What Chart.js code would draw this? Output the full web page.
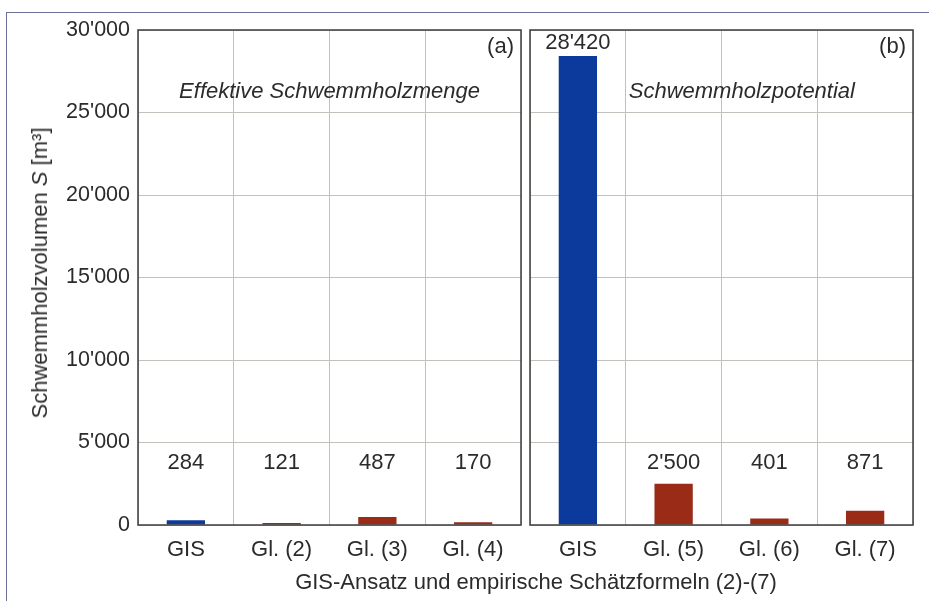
<!DOCTYPE html>
<html>
<head>
<meta charset="utf-8">
<script src="https://cdn.jsdelivr.net/npm/chart.js@4"></script>
<style>
  body { margin: 0; background: #fff; }
  #wrap { position: relative; width: 929px; height: 601px; overflow: hidden; font-family: "Liberation Sans", Arial, sans-serif; color: #2b2b2b; }
  #frame { position: absolute; left: 6px; top: 12px; width: 940px; height: 600px; border-top: 1.5px solid #6d7098; border-left: 1.5px solid #6d7098; }
  #cA { position: absolute; left: 0; top: 0; }
  #cB { position: absolute; left: 525px; top: 0; }
  #ytitle { position: absolute; left: 40px; top: 273px; transform: translate(-50%, -50%) rotate(-90deg); white-space: nowrap; font-size: 22px; }
  #xtitle { position: absolute; left: 536px; top: 582px; transform: translate(-50%, -50%); white-space: nowrap; font-size: 22px; }
</style>
</head>
<body>
<div id="wrap">
  <div id="frame"></div>
  <canvas id="cA" width="525" height="601"></canvas>
  <canvas id="cB" width="404" height="601"></canvas>
  <div id="ytitle">Schwemmholzvolumen <i>S</i> [m³]</div>
  <div id="xtitle">GIS-Ansatz und empirische Schätzformeln (2)-(7)</div>
</div>
<script>
// Teil (a): effektive Schwemmholzmenge, Teil (b): Schwemmholzpotential
const labelsA = ['GIS', 'Gl. (2)', 'Gl. (3)', 'Gl. (4)'];
const valuesA = [284, 121, 487, 170];
const labelsB = ['GIS', 'Gl. (5)', 'Gl. (6)', 'Gl. (7)'];
const valuesB = [28420, 2500, 401, 871];
const yTicks = [0, 5000, 10000, 15000, 20000, 25000, 30000];

const blue = '#0c3a9c';
const red = '#9a2b17';
const fontFam = '"Liberation Sans", Arial, sans-serif';
const textCol = '#2b2b2b';

function fmt(v) {
    return String(v).replace(/\B(?=(\d{3})+(?!\d))/g, "'");
}

// Rahmen, Werte und Beschriftung der Teilgrafik
const panelPlugin = {
    id: 'panel',
    afterDraw(chart, args, opts) {
        let ctx = chart.ctx;
        let a = chart.chartArea;
        ctx.save();
        ctx.strokeStyle = '#3c3c3c';
        ctx.lineWidth = 1.5;
        ctx.strokeRect(a.left, a.top, a.right - a.left, a.bottom - a.top);

        ctx.fillStyle = textCol;
        ctx.font = '22px ' + fontFam;
        ctx.textAlign = 'center';
        ctx.textBaseline = 'middle';
        let y = chart.scales.y;
        let meta = chart.getDatasetMeta(0);
        meta.data.forEach((bar, i) => {
            let v = chart.data.datasets[0].data[i];
            let py = Math.min(y.getPixelForValue(3750), y.getPixelForValue(v) - 13);
            ctx.fillText(fmt(v), bar.x, py);
        });

        ctx.textAlign = 'right';
        ctx.fillText(opts.tag, a.right - 7, a.top + 17);

        ctx.font = 'italic 22px ' + fontFam;
        if (opts.centered) {
            ctx.textAlign = 'center';
            ctx.fillText(opts.title, (a.left + a.right) / 2, a.top + 62);
        } else {
            let x = chart.scales.x;
            let gx = (x.getPixelForValue(0) + x.getPixelForValue(1)) / 2;
            ctx.textAlign = 'left';
            ctx.fillText(opts.title, gx + 3, a.top + 62);
        }
        ctx.restore();
    }
};

function makeChart(id, labels, values, colors, showY, pad, yWidth, tag, title, centered) {
    let ctx = document.getElementById(id).getContext('2d');
    return new Chart(ctx, {
        type: 'bar',
        data: {
            labels: labels,
            datasets: [{
                data: values,
                backgroundColor: colors,
                borderWidth: 0,
                barPercentage: 0.4,
                categoryPercentage: 1
            }]
        },
        options: {
            responsive: false,
            animation: false,
            layout: { padding: pad },
            plugins: {
                legend: { display: false },
                tooltip: { enabled: false },
                panel: { tag: tag, title: title, centered: centered }
            },
            scales: {
                x: {
                    grid: { color: '#c4c0bc', lineWidth: 1, offset: true, drawTicks: false },
                    border: { display: false },
                    ticks: { color: textCol, font: { size: 22, family: fontFam }, padding: 12, maxRotation: 0 },
                    afterFit(s) { s.height = 76; }
                },
                y: {
                    min: 0,
                    max: 30000,
                    afterBuildTicks(s) { s.ticks = yTicks.map(v => ({ value: v })); },
                    grid: { color: '#c4c0bc', lineWidth: 1, drawTicks: false },
                    border: { display: false },
                    ticks: {
                        display: showY,
                        color: textCol,
                        font: { size: 21.5, family: fontFam },
                        padding: 8,
                        callback: v => fmt(v)
                    },
                    afterFit(s) { s.width = yWidth; }
                }
            }
        },
        plugins: [panelPlugin]
    });
}

makeChart('cA', labelsA, valuesA, [blue, red, red, red], true,
    { top: 30, right: 4, left: 0, bottom: 0 }, 138, '(a)', 'Effektive Schwemmholzmenge', true);
makeChart('cB', labelsB, valuesB, [blue, red, red, red], false,
    { top: 30, right: 16, left: 0, bottom: 0 }, 5, '(b)', 'Schwemmholzpotential', false);
</script>
</body>
</html>
